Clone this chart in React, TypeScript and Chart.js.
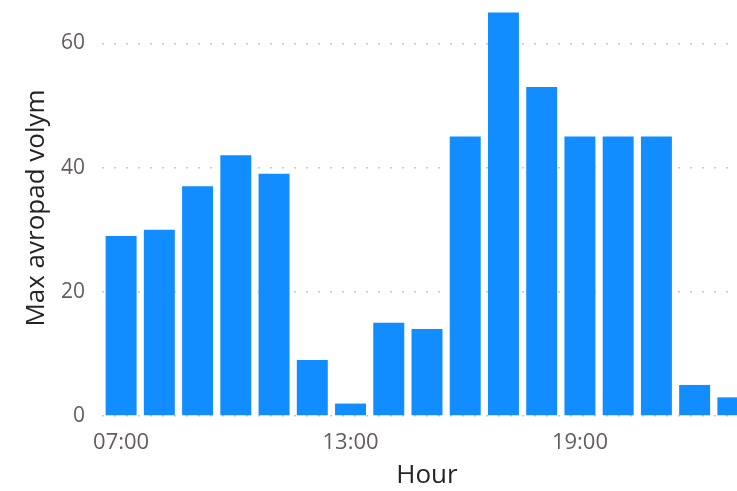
import React, { useEffect, useRef } from "react";
import { Chart, registerables } from "chart.js";

Chart.register(...registerables);

const hours = ["07:00","08:00","09:00","10:00","11:00","12:00","13:00","14:00","15:00","16:00","17:00","18:00","19:00","20:00","21:00","22:00","23:00"];
const maxVolume = [29, 30, 37, 42, 39, 9, 2, 15, 14, 45, 65, 53, 45, 45, 45, 5, 3];
const shownTicks = ["07:00", "13:00", "19:00"];

const FONT = "'Open Sans', 'Noto Sans', sans-serif";

export default function App() {
  const ref = useRef<HTMLCanvasElement | null>(null);
  useEffect(() => {
    if (!ref.current) return;
    const chart = new Chart(ref.current, {
      type: "bar",
      data: {
        labels: hours,
        datasets: [
          {
            label: "Max avropad volym",
            data: maxVolume,
            backgroundColor: "#118DFF",
            categoryPercentage: 1,
            barPercentage: 0.81,
          },
        ],
      },
      options: {
        animation: false,
        responsive: false,
        maintainAspectRatio: false,
        layout: { padding: { top: 0, right: 8, bottom: 0, left: 0 } },
        plugins: { legend: { display: false }, tooltip: { enabled: false } },
        scales: {
          x: {
            grid: { display: false, drawTicks: false },
            border: { display: false },
            ticks: {
              autoSkip: false,
              maxRotation: 0,
              padding: 14,
              color: "#605E5C",
              font: { family: FONT, size: 22 },
              callback: function (_v: any, i: number) {
                return shownTicks.includes(hours[i]) ? hours[i] : "";
              },
            },
            title: {
              display: true,
              text: "Hour",
              color: "#252423",
              font: { family: FONT, size: 26 },
              padding: { top: 4, bottom: 0 },
            },
            afterFit: (s: any) => {
              s.height = 75;
              s.paddingLeft = 0;
              s.paddingRight = 0;
            },
          },
          y: {
            min: 0,
            max: 67,
            grid: { color: "#C8C8C8", lineWidth: 1.5, drawTicks: false },
            border: { display: false, dash: [2, 10] },
            ticks: {
              stepSize: 20,
              includeBounds: false,
              padding: 17,
              color: "#605E5C",
              font: { family: FONT, size: 21 },
            },
            title: {
              display: true,
              text: "Max avropad volym",
              color: "#252423",
              font: { family: FONT, size: 26 },
              padding: { top: 21, bottom: 0 },
            },
            afterFit: (s: any) => {
              s.width = 102;
              s.paddingTop = 0;
              s.paddingBottom = 0;
            },
          },
        },
      } as any,
    });
    return () => chart.destroy();
  }, []);
  return (
    <div style={{ position: "fixed", left: 0, top: 0, width: 737, height: 491, overflow: "hidden", background: "#fff" }}>
      <canvas ref={ref} width={760} height={491} style={{ width: 760, height: 491, display: "block" }} />
    </div>
  );
}
